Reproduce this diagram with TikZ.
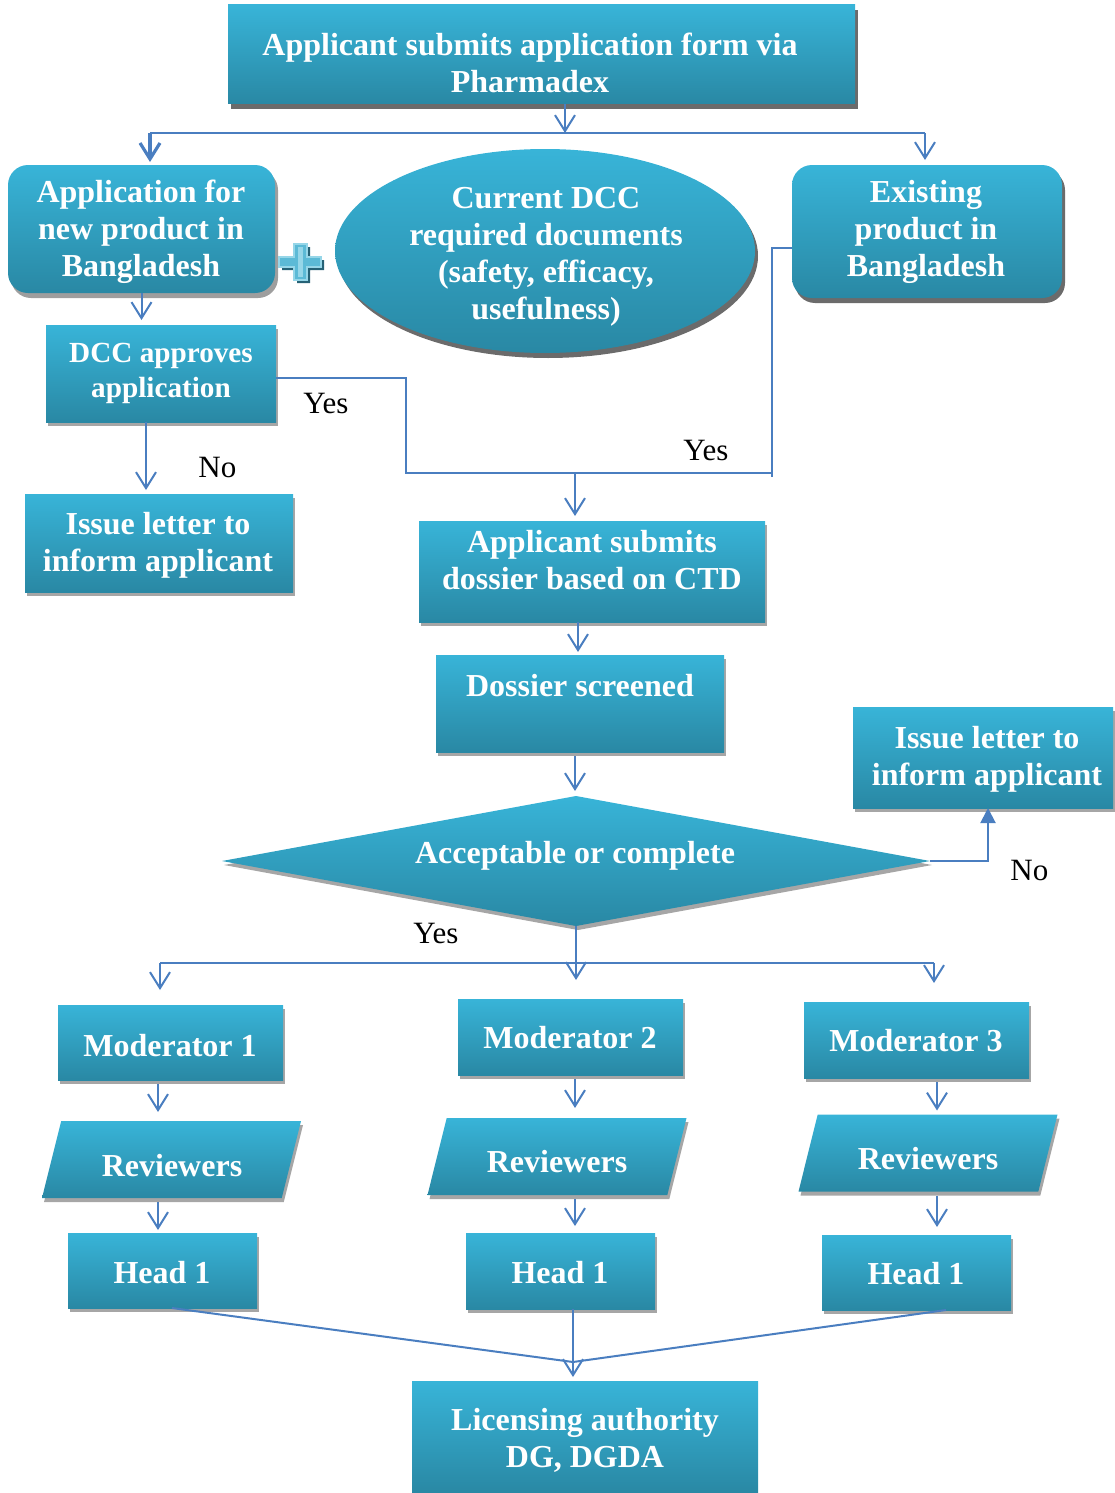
\documentclass[tikz,border=0pt]{standalone}
\usepackage{fontspec}
\setmainfont{Liberation Serif}
\usetikzlibrary{shapes.geometric,shadows,arrows.meta,fit}
\definecolor{ctop}{RGB}{56,180,216}
\definecolor{cbot}{RGB}{41,136,164}
\definecolor{arrc}{RGB}{74,126,192}
\definecolor{plusc}{RGB}{92,186,214}
\definecolor{plusl}{RGB}{150,214,232}
\definecolor{plusd}{RGB}{38,98,118}
\begin{document}
\begin{tikzpicture}[x=0.5pt,y=-0.5pt,
  box/.style={rectangle,top color=ctop,bottom color=cbot,draw=none,inner sep=0pt,outer sep=0pt},
  lshd/.style={drop shadow={shadow xshift=1pt,shadow yshift=-2pt,fill=black!35,opacity=1}},
  mshd/.style={drop shadow={shadow xshift=1.5pt,shadow yshift=-2.5pt,fill=black!38,opacity=1}},
  dshd/.style={drop shadow={shadow xshift=1.5pt,shadow yshift=-2.5pt,fill=black!58,opacity=1}},
  rbox/.style={box,rounded corners=10pt},
  para/.style={box,trapezium,trapezium left angle=76,trapezium right angle=104,trapezium stretches body,text height=38.5pt,text depth=0pt,minimum width=129.5pt,minimum height=38.5pt},
  txt/.style={text=white,font=\fontsize{16}{18.5}\selectfont\bfseries,align=center,inner sep=0pt},
  stxt/.style={txt,font=\fontsize{14.6}{17.5}\selectfont\bfseries},
  lab/.style={text=black,font=\fontsize{15.5}{18}\selectfont,inner sep=0pt,anchor=base west},
  ln/.style={draw=arrc,line width=1pt},
  arr/.style={ln,-{Straight Barb[length=8pt,width=10pt]}},
  arrT/.style={ln,-{Triangle[length=7.5pt,width=7.5pt]}}
]
\useasboundingbox (0,0) rectangle (1114,1493);

% ---- boxes ----
\node[box,dshd,fit={(228,5) (855,104)}] (top) {};
\node[rbox,mshd,fit={(8,165) (275,293)}] (newp) {};
\node[ellipse,top color=ctop,bottom color=cbot,draw=none,inner sep=0pt,dshd,minimum width=210pt,minimum height=102pt] (ell) at (545,251) {};
\node[rbox,dshd,fit={(792,165) (1062,298)}] (exist) {};
\node[box,lshd,fit={(46,325) (276,422)}] (dcc) {};
\node[box,lshd,fit={(25,494) (293,592)}] (iss1) {};
\node[box,lshd,fit={(419,521) (765,622)}] (dos1) {};
\node[box,lshd,fit={(436,655) (724,752)}] (dos2) {};
\node[box,lshd,fit={(853,707) (1113,808)}] (iss2) {};
\node[box,diamond,aspect=5.45,lshd,minimum width=354pt,minimum height=65pt] (dia) at (576,861) {};
\node[box,lshd,fit={(58,1005) (283,1080)}] (mod1) {};
\node[box,lshd,fit={(458,999) (683,1075)}] (mod2) {};
\node[box,lshd,fit={(804,1002) (1029,1078)}] (mod3) {};
\node[para,lshd] (rev1) at (171.5,1159.5) {};
\node[para,lshd] (rev2) at (557,1156.5) {};
\node[para,lshd] (rev3) at (928,1153) {};
\node[box,lshd,fit={(68,1233) (257,1308)}] (hd1) {};
\node[box,lshd,fit={(466,1233) (655,1309)}] (hd2) {};
\node[box,lshd,fit={(822,1235) (1011,1310)}] (hd3) {};
\node[box,fit={(412,1381) (758,1493)}] (lic) {};

% ---- plus sign ----
\fill[plusd] (297,247) -- (310,247) -- (310,260) -- (324,260) -- (324,270) -- (310,270) -- (310,283) -- (297,283) -- (297,270) -- (282,270) -- (282,260) -- (297,260) -- cycle;
\filldraw[fill=plusc,draw=plusl,line width=0.6pt] (294,244) -- (307,244) -- (307,257) -- (321,257) -- (321,267) -- (307,267) -- (307,280) -- (294,280) -- (294,267) -- (279,267) -- (279,257) -- (294,257) -- cycle;
\fill[plusl] (298,247) rectangle (303,277);

% ---- texts ----
\node[txt] (topT) at (530,62.5) {Applicant submits application form via\\Pharmadex};
\node[txt] (newpT) at (141,232) {Application for\\new product in\\Bangladesh};
\node[txt] (ellT) at (546,257) {Current DCC\\required documents\\(safety, efficacy,\\usefulness)};
\node[txt] (existT) at (926,231.5) {Existing\\product in\\Bangladesh};
\node[stxt] (dccT) at (161,373) {DCC approves\\application};
\node[txt] (iss1T) at (158,545) {Issue letter to\\inform applicant};
\node[txt] (dos1T) at (592,560) {Applicant submits\\dossier based on CTD};
\node[txt] (dos2T) at (580,686) {Dossier screened};
\node[txt] (iss2T) at (987,759) {Issue letter to\\inform applicant};
\node[txt] (diaT) at (575,856) {Acceptable or complete};
\node[txt] (mod1T) at (170,1046) {Moderator 1};
\node[txt] (mod2T) at (570,1038) {Moderator 2};
\node[txt] (mod3T) at (916,1041) {Moderator 3};
\node[txt] (rev1T) at (172,1166) {Reviewers};
\node[txt] (rev2T) at (557,1162) {Reviewers};
\node[txt] (rev3T) at (928,1159) {Reviewers};
\node[txt] (hd1T) at (162,1273) {Head 1};
\node[txt] (hd2T) at (560,1273) {Head 1};
\node[txt] (hd3T) at (916,1274) {Head 1};
\node[txt] (licT) at (585,1440) {Licensing authority\\DG, DGDA};

% ---- labels ----
\node[lab] (yes1) at (303,413) {Yes};
\node[lab] (yes2) at (683,460) {Yes};
\node[lab] (no1) at (198,477) {No};
\node[lab] (no2) at (1010,880) {No};
\node[lab] (yes3) at (413,943) {Yes};

% ---- connectors ----
\coordinate (j0) at (565,133);
\coordinate (jl) at (150,133);
\coordinate (jr) at (925,133);
\draw[arr] (top.south -| j0) -- (j0);
\draw[ln] (jl) -- (jr);
\draw[arr,line width=1.6pt,shorten >=1.5pt] (jl) -- (jl |- newp.north);
\draw[arr,shorten >=2.5pt] (jr) -- (jr |- exist.north);

\draw[arr,shorten >=2.5pt] (newp.south) -- (newp.south |- dcc.north);

\coordinate (b1) at (406,378);
\coordinate (b2) at (406,473);
\coordinate (m1) at (575,473);
\coordinate (b3) at (772,473);
\coordinate (e1) at (772,248);
\coordinate (b4) at (772,477);
\draw[ln] (dcc.east |- b1) -- (b1) -- (b2) -- (b3);
\draw[ln] (exist.west |- e1) -- (e1) -- (b4);
\draw[arr,shorten >=2.5pt] (m1) -- (m1 |- dos1.north);

\draw[arr,shorten >=2pt] ([xshift=-7.5pt]dcc.south) -- ([xshift=-7.5pt]dcc.south |- iss1.north);
\draw[arr,shorten >=1.5pt] ([xshift=-7pt]dos1.south) -- ([xshift=-7pt]dos1.south |- dos2.north);
\draw[arr,shorten >=2.5pt] ([xshift=-2.5pt,yshift=-2pt]dos2.south) -- ([xshift=-2.5pt]dos2.south |- dia.north);
\draw[arrT] (dia.east) -| ([xshift=2.5pt]iss2.south);

\coordinate (kl) at (160,963);
\coordinate (kr) at (934,963);
\coordinate (kle) at (160,990);
\coordinate (kre) at (934,983);
\coordinate (kme) at (576,980);
\draw[ln] (kl) -- (kr);
\draw[arr] (dia.south) -- (kme);
\draw[arr] (kl) -- (kle);
\draw[arr] (kr) -- (kre);

\draw[arr,shorten >=4.5pt] ([xshift=-6.25pt,yshift=-2pt]mod1.south) -- ([xshift=-6.25pt]mod1.south |- rev1.north);
\draw[arr,shorten >=5pt] ([xshift=2.25pt,yshift=-2pt]mod2.south) -- ([xshift=2.25pt]mod2.south |- rev2.north);
\draw[arr,shorten >=2pt] ([xshift=10.25pt,yshift=-2pt]mod3.south) -- ([xshift=10.25pt]mod3.south |- rev3.north);
\draw[arr,shorten >=1.5pt] ([xshift=-6.75pt,yshift=-2pt]rev1.south) -- ([xshift=-6.75pt]rev1.south |- hd1.north);
\draw[arr,shorten >=3.5pt] ([xshift=9pt,yshift=-2pt]rev2.south) -- ([xshift=9pt]rev2.south |- hd2.north);
\draw[arr,shorten >=4pt] ([xshift=4.5pt,yshift=-2pt]rev3.south) -- ([xshift=4.5pt]rev3.south |- hd3.north);

\coordinate (J) at (573,1362);
\draw[ln] ([xshift=4.75pt]hd1.south) -- (J);
\draw[ln] ([xshift=14.75pt]hd3.south) -- (J);
\draw[arr,shorten >=2pt] ([xshift=6.25pt]hd2.south) -- ([xshift=6.25pt]hd2.south |- lic.north);
\end{tikzpicture}
\end{document}
